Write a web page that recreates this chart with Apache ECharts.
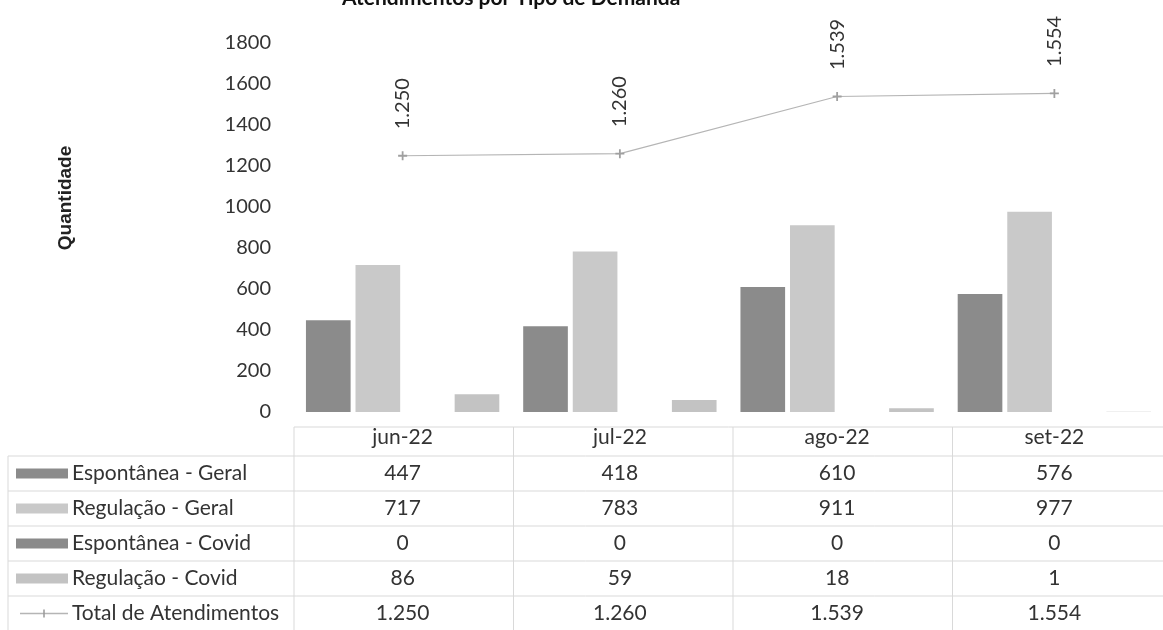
<!DOCTYPE html>
<html>
<head>
<meta charset="utf-8">
<script src="https://cdn.jsdelivr.net/npm/echarts@6/dist/echarts.min.js"></script>
<style>
html,body{margin:0;padding:0;background:#fff;}
#c{width:1163px;height:630px;}
</style>
</head>
<body>
<div id="c"></div>
<script>
const categories = ['jun-22', 'jul-22', 'ago-22', 'set-22'];
const espontaneaGeral = [447, 418, 610, 576];
const regulacaoGeral = [717, 783, 911, 977];
const espontaneaCovid = [0, 0, 0, 0];
const regulacaoCovid = [86, 59, 18, 1];
const totalAtendimentos = [1250, 1260, 1539, 1554];
const seriesNames = ['Espontânea - Geral', 'Regulação - Geral', 'Espontânea - Covid', 'Regulação - Covid', 'Total de Atendimentos'];
const yTicks = [0, 200, 400, 600, 800, 1000, 1200, 1400, 1600, 1800];
const titleText = 'Atendimentos por Tipo de Demanda -';
const yAxisTitle = 'Quantidade';

const FONT = 'Lato, Carlito, Calibri, sans-serif';
const colors = ['#8b8b8b', '#c9c9c9', '#8a8a8a', '#c3c3c3', '#b5b5b5'];
const fmt = v => v >= 1000 ? Math.floor(v / 1000) + '.' + String(v % 1000).padStart(3, '0') : String(v);

const chart = echarts.init(document.getElementById('c'), null, {renderer: 'canvas'});
const barBase = {
  type: 'bar', barCategoryGap: '11%', barGap: '11%'
};
const option = {
  animation: false,
  backgroundColor: '#ffffff',
  grid: {left: 294, top: 43, width: 878, height: 369, containLabel: false},
  xAxis: {
    type: 'category', data: categories,
    axisLine: {show: false}, axisTick: {show: false},
    axisLabel: {show: true, margin: 15, fontFamily: FONT, fontSize: 21, color: '#333', verticalAlign: 'top'},
    splitLine: {show: false}
  },
  yAxis: {
    type: 'value', min: yTicks[0], max: yTicks[yTicks.length - 1], interval: 200,
    axisLine: {show: false}, axisTick: {show: false}, splitLine: {show: false},
    axisLabel: {fontFamily: FONT, fontSize: 20, color: '#333', margin: 23, formatter: v => String(v)}
  },
  series: [
    Object.assign({name: seriesNames[0], data: espontaneaGeral, itemStyle: {color: colors[0]}}, barBase),
    Object.assign({name: seriesNames[1], data: regulacaoGeral, itemStyle: {color: colors[1]}}, barBase),
    Object.assign({name: seriesNames[2], data: espontaneaCovid, itemStyle: {color: colors[2]}}, barBase),
    Object.assign({name: seriesNames[3], data: regulacaoCovid, itemStyle: {color: colors[3]}}, barBase),
    {
      name: seriesNames[4], type: 'line', data: totalAtendimentos,
      lineStyle: {color: colors[4], width: 1.2},
      symbol: 'path://M4,0H6V4H10V6H6V10H4V6H0V4H4Z', symbolSize: 9,
      itemStyle: {color: '#a0a0a0'},
      label: {show: true, position: 'top', rotate: 90, distance: 22, align: 'left', verticalAlign: 'middle',
        fontFamily: FONT, fontSize: 20, color: '#333', formatter: p => fmt(p.value)}
    }
  ]
};
chart.setOption(option);

// Data table under the plot, built from the arrays and positioned via the axis scale
const rows = [espontaneaGeral, regulacaoGeral, espontaneaCovid, regulacaoCovid, totalAtendimentos];
const tableTop = 427, headerH = 29, rowH = 35;
const colLeft = 294, bandW = 878 / categories.length;
const lineColor = '#d9d9d9';
const g = [];
// title (partially clipped at the top like the scan)
g.push({type: 'text', left: 342, top: -12, style: {text: titleText, fontFamily: FONT, fontWeight: 'bold', fontSize: 21, fill: '#111'}});
// y-axis title
g.push({type: 'text', x: 66, y: 198, rotation: Math.PI / 2,
  style: {text: yAxisTitle, fontFamily: 'Liberation Sans, Arial, sans-serif', fontWeight: 'bold', fontSize: 19, fill: '#222', align: 'center', verticalAlign: 'middle'}});
// header top line
g.push({type: 'line', shape: {x1: colLeft, y1: tableTop, x2: 1163, y2: tableTop}, style: {stroke: lineColor, lineWidth: 1}});
for (let r = 0; r <= rows.length; r++) {
  const y = tableTop + headerH + r * rowH;
  g.push({type: 'line', shape: {x1: 8, y1: y, x2: 1163, y2: y}, style: {stroke: lineColor, lineWidth: 1}});
}
for (let c = 0; c <= categories.length; c++) {
  const x = colLeft + c * bandW;
  g.push({type: 'line', shape: {x1: x, y1: tableTop, x2: x, y2: 630}, style: {stroke: lineColor, lineWidth: 1}});
}
g.push({type: 'line', shape: {x1: 8, y1: tableTop + headerH, x2: 8, y2: 630}, style: {stroke: lineColor, lineWidth: 1}});
rows.forEach((vals, r) => {
  const cy = tableTop + headerH + r * rowH + rowH / 2;
  if (r < 4) {
    g.push({type: 'rect', shape: {x: 16, y: cy - 5, width: 52, height: 10}, style: {fill: colors[r]}});
  } else {
    g.push({type: 'line', shape: {x1: 20, y1: cy, x2: 68, y2: cy}, style: {stroke: colors[4], lineWidth: 1.5}});
    g.push({type: 'line', shape: {x1: 44, y1: cy - 4, x2: 44, y2: cy + 4}, style: {stroke: '#999', lineWidth: 1.5}});
  }
  g.push({type: 'text', x: 72, y: cy, style: {text: seriesNames[r], fontFamily: FONT, fontSize: 21, fill: '#333', verticalAlign: 'middle'}});
  vals.forEach((v, c) => {
    const px = chart.convertToPixel({xAxisIndex: 0}, categories[c]);
    g.push({type: 'text', x: px, y: cy, style: {text: fmt(v), fontFamily: FONT, fontSize: 21, fill: '#333', align: 'center', verticalAlign: 'middle'}});
  });
});
chart.setOption({graphic: g});
</script>
</body>
</html>
